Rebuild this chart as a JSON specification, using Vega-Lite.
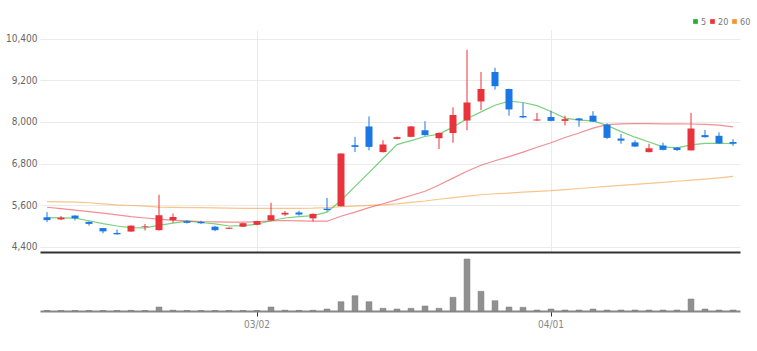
{
  "$schema": "https://vega.github.io/schema/vega-lite/v6.json",
  "padding": {"left": 0, "top": 17, "right": 17, "bottom": 0},
  "bounds": "flush",
  "spacing": 0,
  "config": {
    "font": "Liberation Sans Narrow, DejaVu Sans Condensed, Liberation Sans, sans-serif",
    "view": {"stroke": null},
    "axis": {"labelFont": "Liberation Sans Narrow, DejaVu Sans Condensed, Liberation Sans, sans-serif"},
    "legend": {"labelFont": "Liberation Sans Narrow, DejaVu Sans Condensed, Liberation Sans, sans-serif"}
  },
  "datasets": {
    "k": [
      {"d": "02/08", "o": 5250, "h": 5400, "l": 5110, "c": 5170, "v": 5, "ma5": 5240, "ma20": 5540, "ma60": 5700},
      {"d": "02/09", "o": 5190, "h": 5290, "l": 5170, "c": 5240, "v": 5, "ma5": 5235, "ma20": 5500, "ma60": 5695},
      {"d": "02/10", "o": 5300, "h": 5310, "l": 5160, "c": 5220, "v": 5, "ma5": 5225, "ma20": 5455, "ma60": 5685},
      {"d": "02/11", "o": 5120, "h": 5130, "l": 5010, "c": 5060, "v": 5, "ma5": 5150, "ma20": 5415, "ma60": 5670},
      {"d": "02/14", "o": 4940, "h": 4940, "l": 4790, "c": 4845, "v": 5, "ma5": 5070, "ma20": 5370, "ma60": 5640},
      {"d": "02/15", "o": 4800, "h": 4900, "l": 4750, "c": 4760, "v": 5, "ma5": 5000, "ma20": 5320, "ma60": 5610},
      {"d": "02/16", "o": 4840, "h": 5015, "l": 4830, "c": 5010, "v": 7, "ma5": 4950, "ma20": 5270, "ma60": 5590},
      {"d": "02/17", "o": 4970, "h": 5060, "l": 4870, "c": 4990, "v": 5, "ma5": 4945, "ma20": 5230, "ma60": 5570},
      {"d": "02/18", "o": 4880, "h": 5900, "l": 4870, "c": 5310, "v": 40, "ma5": 5020, "ma20": 5195, "ma60": 5545},
      {"d": "02/21", "o": 5170, "h": 5360, "l": 5090, "c": 5260, "v": 8, "ma5": 5080, "ma20": 5160, "ma60": 5535},
      {"d": "02/22", "o": 5140, "h": 5160, "l": 5070, "c": 5090, "v": 5, "ma5": 5140, "ma20": 5150, "ma60": 5530},
      {"d": "02/23", "o": 5120, "h": 5150, "l": 5060, "c": 5080, "v": 5, "ma5": 5100, "ma20": 5130, "ma60": 5528},
      {"d": "02/24", "o": 4980, "h": 5000, "l": 4850, "c": 4880, "v": 5, "ma5": 5060, "ma20": 5120, "ma60": 5520},
      {"d": "02/25", "o": 4920, "h": 4960, "l": 4910, "c": 4950, "v": 5, "ma5": 5000, "ma20": 5110, "ma60": 5515},
      {"d": "02/28", "o": 4980, "h": 5090, "l": 4970, "c": 5080, "v": 5, "ma5": 5010, "ma20": 5110, "ma60": 5510},
      {"d": "03/02", "o": 5035, "h": 5150, "l": 5020, "c": 5140, "v": 5, "ma5": 5050, "ma20": 5120, "ma60": 5505},
      {"d": "03/03", "o": 5160, "h": 5670, "l": 5150, "c": 5310, "v": 40, "ma5": 5150, "ma20": 5150, "ma60": 5505},
      {"d": "03/04", "o": 5330, "h": 5430, "l": 5290, "c": 5380, "v": 8, "ma5": 5230, "ma20": 5158, "ma60": 5508},
      {"d": "03/07", "o": 5390, "h": 5440, "l": 5300, "c": 5330, "v": 6, "ma5": 5270, "ma20": 5150, "ma60": 5510},
      {"d": "03/08", "o": 5220, "h": 5360, "l": 5130, "c": 5350, "v": 7, "ma5": 5300, "ma20": 5140, "ma60": 5515},
      {"d": "03/10", "o": 5500, "h": 5810, "l": 5420, "c": 5460, "v": 20, "ma5": 5400, "ma20": 5138, "ma60": 5530},
      {"d": "03/11", "o": 5570, "h": 7090, "l": 5560, "c": 7090, "v": 93, "ma5": 5735, "ma20": 5280, "ma60": 5555},
      {"d": "03/14", "o": 7330, "h": 7570, "l": 7130, "c": 7280, "v": 153, "ma5": 6140, "ma20": 5400, "ma60": 5575},
      {"d": "03/15", "o": 7870, "h": 8160, "l": 7180, "c": 7280, "v": 93, "ma5": 6540, "ma20": 5530, "ma60": 5595},
      {"d": "03/16", "o": 7130, "h": 7470, "l": 7120, "c": 7350, "v": 27, "ma5": 6945, "ma20": 5640, "ma60": 5610},
      {"d": "03/17", "o": 7510, "h": 7580, "l": 7500, "c": 7560, "v": 20, "ma5": 7345, "ma20": 5760, "ma60": 5640},
      {"d": "03/18", "o": 7570, "h": 7880, "l": 7560, "c": 7870, "v": 27, "ma5": 7460, "ma20": 5880, "ma60": 5680},
      {"d": "03/21", "o": 7760, "h": 8020, "l": 7600, "c": 7620, "v": 50, "ma5": 7580, "ma20": 6000, "ma60": 5720},
      {"d": "03/22", "o": 7530, "h": 7700, "l": 7220, "c": 7680, "v": 27, "ma5": 7650, "ma20": 6180, "ma60": 5770},
      {"d": "03/23", "o": 7680, "h": 8420, "l": 7400, "c": 8200, "v": 137, "ma5": 7850, "ma20": 6380, "ma60": 5820},
      {"d": "03/24", "o": 8040, "h": 10080, "l": 7760, "c": 8560, "v": 520, "ma5": 8090, "ma20": 6580, "ma60": 5860},
      {"d": "03/25", "o": 8590, "h": 9440, "l": 8340, "c": 8950, "v": 197, "ma5": 8290, "ma20": 6750, "ma60": 5900},
      {"d": "03/28", "o": 9440, "h": 9560, "l": 8930, "c": 9030, "v": 103, "ma5": 8480, "ma20": 6880, "ma60": 5930},
      {"d": "03/29", "o": 8950, "h": 8960, "l": 8180, "c": 8360, "v": 40, "ma5": 8600, "ma20": 7000, "ma60": 5950},
      {"d": "03/30", "o": 8170, "h": 8550, "l": 8110, "c": 8130, "v": 37, "ma5": 8560, "ma20": 7130, "ma60": 5975},
      {"d": "03/31", "o": 8040, "h": 8260, "l": 8030, "c": 8070, "v": 10, "ma5": 8470, "ma20": 7270, "ma60": 6000},
      {"d": "04/01", "o": 8140, "h": 8320, "l": 8020, "c": 8030, "v": 20, "ma5": 8300, "ma20": 7400, "ma60": 6020},
      {"d": "04/04", "o": 8030, "h": 8180, "l": 7900, "c": 8080, "v": 10, "ma5": 8110, "ma20": 7550, "ma60": 6050},
      {"d": "04/05", "o": 8100, "h": 8110, "l": 7860, "c": 8050, "v": 10, "ma5": 8050, "ma20": 7680, "ma60": 6080},
      {"d": "04/06", "o": 8180, "h": 8310, "l": 8000, "c": 8010, "v": 20, "ma5": 8030, "ma20": 7820, "ma60": 6110},
      {"d": "04/07", "o": 7920, "h": 7960, "l": 7510, "c": 7540, "v": 10, "ma5": 7900, "ma20": 7920, "ma60": 6140},
      {"d": "04/08", "o": 7520, "h": 7650, "l": 7370, "c": 7460, "v": 10, "ma5": 7720, "ma20": 7945, "ma60": 6170},
      {"d": "04/11", "o": 7410, "h": 7470, "l": 7280, "c": 7290, "v": 10, "ma5": 7560, "ma20": 7950, "ma60": 6200},
      {"d": "04/12", "o": 7130, "h": 7370, "l": 7120, "c": 7240, "v": 10, "ma5": 7420, "ma20": 7950, "ma60": 6230},
      {"d": "04/13", "o": 7320, "h": 7400, "l": 7180, "c": 7195, "v": 10, "ma5": 7280, "ma20": 7945, "ma60": 6260},
      {"d": "04/14", "o": 7260, "h": 7280, "l": 7160, "c": 7190, "v": 10, "ma5": 7250, "ma20": 7945, "ma60": 6290},
      {"d": "04/15", "o": 7180, "h": 8260, "l": 7170, "c": 7810, "v": 120, "ma5": 7340, "ma20": 7940, "ma60": 6320},
      {"d": "04/18", "o": 7620, "h": 7770, "l": 7550, "c": 7560, "v": 20, "ma5": 7380, "ma20": 7930, "ma60": 6350},
      {"d": "04/19", "o": 7600, "h": 7700, "l": 7370, "c": 7380, "v": 10, "ma5": 7385, "ma20": 7905, "ma60": 6385},
      {"d": "04/20", "o": 7420, "h": 7500, "l": 7310, "c": 7370, "v": 10, "ma5": 7370, "ma20": 7855, "ma60": 6430}
    ]
  },
  "vconcat": [
    {
      "width": 700,
      "height": 222,
      "data": {"name": "k"},
      "encoding": {
        "x": {
          "field": "d", "type": "ordinal", "sort": null,
          "scale": {"paddingInner": 0, "paddingOuter": 0},
          "axis": {"values": ["03/02", "04/01"], "labels": false, "ticks": false, "grid": true, "gridColor": "#ebebeb", "gridWidth": 1, "domainColor": "#333333", "domainWidth": 2, "title": null}
        }
      },
      "layer": [
        {
          "mark": {"type": "line", "strokeWidth": 1.2, "strokeOpacity": 0.55},
          "encoding": {
            "y": {
              "field": "ma60", "type": "quantitative",
              "scale": {"domain": [4250, 10650], "nice": false, "zero": false},
              "axis": {"values": [4400, 5600, 6800, 8000, 9200, 10400], "labelExpr": "format(datum.value, ',')", "title": null, "domain": false, "ticks": false, "labelPadding": 3, "labelColor": "#666666", "labelFontSize": 10, "gridColor": "#ebebeb", "minExtent": 40, "maxExtent": 40}
            },
            "color": {
              "datum": "60", "type": "nominal",
              "scale": {"domain": ["5", "20", "60"], "range": ["#22b22a", "#e8333a", "#f3952b"]},
              "legend": {
                "title": null, "orient": "none", "direction": "horizontal", "legendX": 651, "legendY": -13,
                "gridAlign": "none",
                "symbolType": "square", "symbolSize": 22, "symbolStrokeWidth": 0, "labelFontSize": 9, "labelColor": "#777777",
                "labelOffset": 1, "columnPadding": 1,
                "encode": {"symbols": {"update": {"fill": {"scale": "color", "field": "value"}, "fillOpacity": {"value": 1}}}}
              }
            }
          }
        },
        {
          "mark": {"type": "line", "strokeWidth": 1.2, "strokeOpacity": 0.55},
          "encoding": {"y": {"field": "ma20", "type": "quantitative"}, "color": {"datum": "20", "type": "nominal"}}
        },
        {
          "mark": {"type": "line", "strokeWidth": 1.2, "strokeOpacity": 0.6},
          "encoding": {"y": {"field": "ma5", "type": "quantitative"}, "color": {"datum": "5", "type": "nominal"}}
        },
        {
          "mark": {"type": "rule", "strokeWidth": 1},
          "encoding": {
            "y": {"field": "l", "type": "quantitative"},
            "y2": {"field": "h"},
            "stroke": {"condition": {"test": "datum.c >= datum.o", "value": "#e8333a"}, "value": "#1a78e6"}
          }
        },
        {
          "mark": {"type": "bar", "width": {"band": 0.5}},
          "encoding": {
            "y": {"field": "o", "type": "quantitative"},
            "y2": {"field": "c"},
            "fill": {"condition": {"test": "datum.c >= datum.o", "value": "#e8333a"}, "value": "#1a78e6"}
          }
        }
      ]
    },
    {
      "width": 700,
      "height": 59,
      "data": {"name": "k"},
      "mark": {"type": "bar", "width": {"band": 0.42}, "fill": "#909090", "stroke": "#7a7a7a", "strokeWidth": 0.5},
      "encoding": {
        "x": {
          "field": "d", "type": "ordinal", "sort": null,
          "scale": {"paddingInner": 0, "paddingOuter": 0},
          "axis": {"values": ["03/02", "04/01"], "labelAngle": 0, "title": null, "grid": false, "domainColor": "#888888", "domainWidth": 2, "tickColor": "#333333", "tickSize": 5, "labelColor": "#888888", "labelFontSize": 10, "labelPadding": 3}
        },
        "y": {
          "field": "v", "type": "quantitative",
          "scale": {"domain": [0, 590], "nice": false},
          "axis": {"title": null, "labels": false, "ticks": false, "domain": false, "grid": false, "minExtent": 40, "maxExtent": 40}
        }
      }
    }
  ]
}
